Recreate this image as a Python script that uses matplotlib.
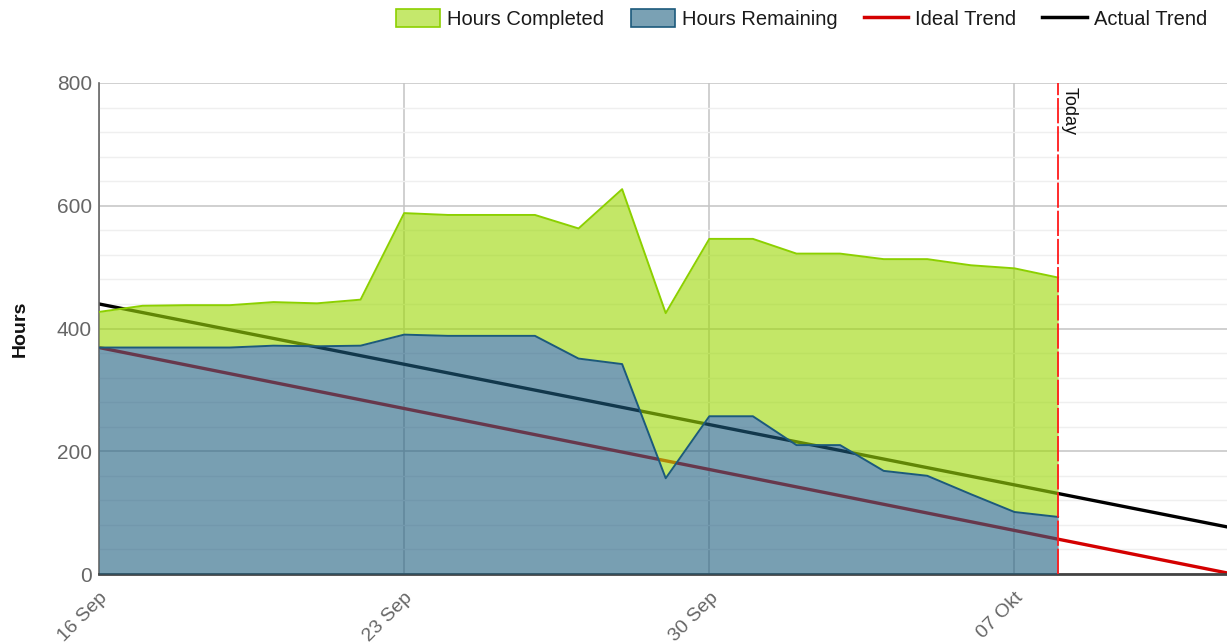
import pandas as pd
import matplotlib.pyplot as plt
import matplotlib.dates as mdates
from matplotlib.patches import Patch
from matplotlib.lines import Line2D
from matplotlib.ticker import MultipleLocator

plt.rcParams['font.family'] = ['Liberation Sans', 'DejaVu Sans']

# === Sprint data (hours per day)
sprint_start = pd.Timestamp('2013-09-16')
days = pd.date_range(sprint_start, periods=23, freq='D')
hours_total = [427, 437, 438, 438, 443, 441, 447, 588, 585, 585, 585, 563, 627,
               425, 546, 546, 522, 522, 513, 513, 503, 498, 483]
hours_remaining = [369, 369, 369, 369, 372, 371, 372, 390, 388, 388, 388, 351, 342,
                   156, 257, 257, 210, 210, 168, 160, 130, 101, 93]

# trend lines: start / end of sprint
trend_days = [sprint_start, pd.Timestamp('2013-10-12')]
ideal_trend = [369, 0]
actual_trend = [440, 75]

today = pd.Timestamp('2013-10-08')
tick_days = pd.to_datetime(['2013-09-16', '2013-09-23', '2013-09-30', '2013-10-07'])
tick_labels = ['16 Sep', '23 Sep', '30 Sep', '07 Okt']

# === colours
green_fill = '#9ed90a'
green_edge = '#8cd000'
blue_fill = '#1f5f80'
blue_edge = '#1c5a7c'
red = '#d40000'

fig = plt.figure(figsize=(12.27, 6.44), dpi=100)
ax = fig.add_axes([99 / 1227, 1 - 574 / 644, 1128 / 1227, 491 / 644])

# trend lines sit under the translucent areas
ax.plot(trend_days, ideal_trend, color=red, lw=2.4, zorder=2)
ax.plot(trend_days, actual_trend, color='black', lw=2.4, zorder=2)

ax.fill_between(days, hours_remaining, hours_total, color=green_fill, alpha=0.62,
                lw=0, zorder=3)
ax.fill_between(days, 0, hours_remaining, color=blue_fill, alpha=0.6, lw=0, zorder=3)
ax.plot(days, hours_total, color=green_edge, lw=1.4, zorder=4)
ax.plot(days, hours_remaining, color=blue_edge, lw=1.4, zorder=4)

# today marker
ax.axvline(today, color='#ff1a1a', lw=1.3, linestyle=(0, (14, 1.6)), zorder=5)
ax.annotate('Today', xy=(mdates.date2num(today), 800), xytext=(2, -3),
            textcoords='offset points', rotation=270, ha='left', va='top',
            fontsize=13, color='#111111')

# === axes
ax.set_xlim(mdates.date2num(sprint_start), mdates.date2num(sprint_start) + 25.875)
ax.set_ylim(0, 800)
ax.set_xticks(tick_days)
ax.set_xticklabels(tick_labels, rotation=45, ha='right', va='top',
                   rotation_mode='anchor', fontsize=14, color='#666666')
ax.yaxis.set_major_locator(MultipleLocator(200))
ax.yaxis.set_minor_locator(MultipleLocator(40))
ax.tick_params(axis='y', which='both', length=0, pad=5, labelsize=15, labelcolor='#666666')
ax.tick_params(axis='x', length=0, pad=11)

ax.set_axisbelow(True)
ax.grid(True, which='major', color='#c4c4c4', lw=1.1)
ax.grid(True, which='minor', axis='y', color='#efefef', lw=1)

for s in ['top', 'right']:
    ax.spines[s].set_visible(False)
ax.spines['left'].set_color('#666666')
ax.spines['left'].set_linewidth(1.2)
ax.spines['bottom'].set_color('#444444')
ax.spines['bottom'].set_linewidth(2)

ax.set_ylabel('Hours', fontsize=14, fontweight='bold', color='#111111')
ax.yaxis.set_label_coords(-0.062, 0.5)

# === legend
handles = [
    Patch(facecolor='#c5e86c', edgecolor=green_edge, lw=1.2),
    Patch(facecolor='#7aa1b4', edgecolor=blue_edge, lw=1.2),
    Line2D([], [], color=red, lw=2.5),
    Line2D([], [], color='black', lw=2.5),
]
labels = ['Hours Completed', 'Hours Remaining', 'Ideal Trend', 'Actual Trend']
leg = fig.legend(handles, labels, loc='center right',
                 bbox_to_anchor=(1207 / 1227, 1 - 19 / 644), ncol=4, frameon=False,
                 fontsize=14.5, handlelength=2.2, handleheight=1.0, handletextpad=0.35,
                 columnspacing=1.3, borderaxespad=0, borderpad=0)
for t in leg.get_texts():
    t.set_color('#1a1a1a')

fig.savefig('out.png', dpi=100)
